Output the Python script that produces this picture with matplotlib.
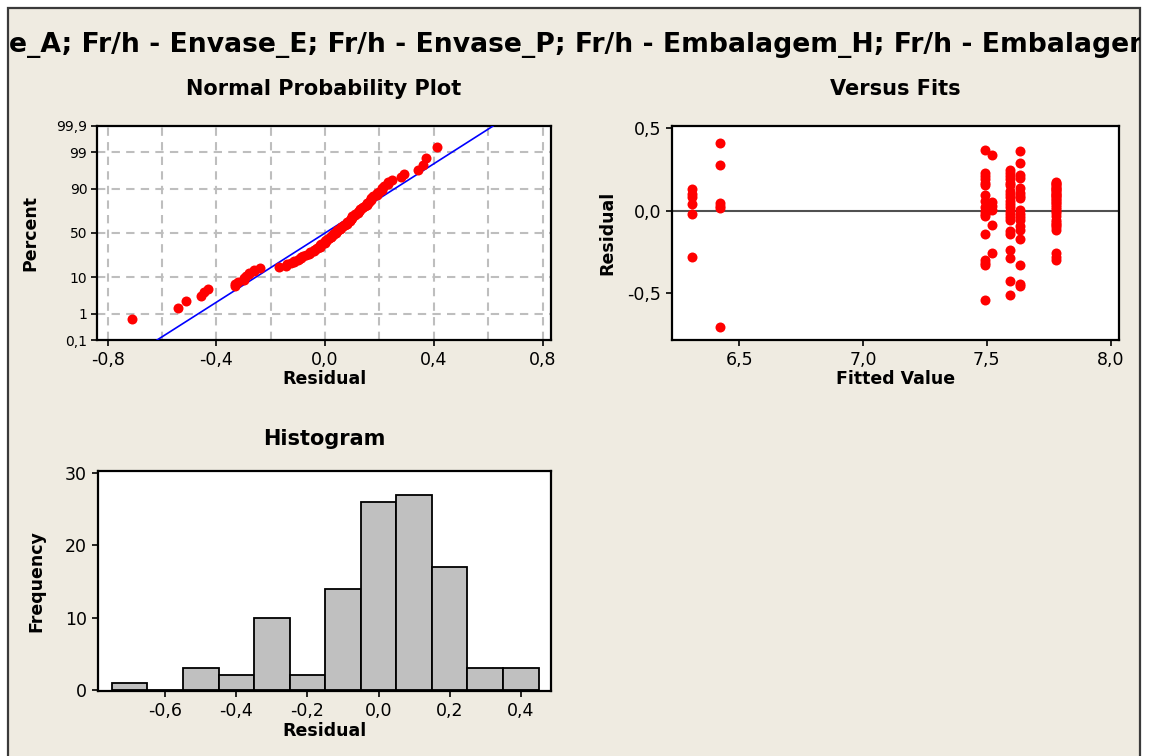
from matplotlib import pyplot as plt
from matplotlib.patches import Rectangle
from matplotlib.ticker import FuncFormatter, FixedLocator
from statistics import NormalDist
import numpy as np

W, H = 1150, 756

# fitted value of each group
fit_values = [6.309, 6.42, 7.493, 7.522, 7.593, 7.632, 7.779]

# residuals of each fitted group
res_631 = [0.13, 0.10, 0.08, 0.04, -0.02, -0.28]
res_642 = [0.41, 0.28, 0.045, 0.03, 0.015, -0.71]
res_750 = [0.37, 0.23, 0.21, 0.19, 0.17, 0.155, 0.095, 0.06, 0.02, 0.0, -0.02,
           -0.035, -0.145, -0.30, -0.32, -0.33, -0.54]
res_752 = [0.34, 0.055, 0.03, 0.005, -0.09, -0.26]
res_759 = [0.245, 0.23, 0.21, 0.19, 0.17, 0.155, 0.12, 0.10, 0.08, 0.06, 0.04,
           0.02, 0.0, -0.02, -0.04, -0.055, -0.125, -0.14, -0.24, -0.29, -0.43, -0.51]
res_763 = [0.36, 0.29, 0.215, 0.20, 0.135, 0.11, 0.09, 0.075, 0.005, -0.02, -0.04,
           -0.055, -0.095, -0.115, -0.17, -0.33, -0.445, -0.455]
res_778 = [0.175, 0.17, 0.16, 0.155, 0.145, 0.14, 0.13, 0.125, 0.12, 0.11, 0.10,
           0.095, 0.09, 0.08, 0.07, 0.065, 0.055, 0.045, 0.035, 0.02, 0.01, 0.0,
           -0.015, -0.03, -0.06, -0.07, -0.08, -0.09, -0.10, -0.115, -0.26, -0.28, -0.30]
res_groups = [res_631, res_642, res_750, res_752, res_759, res_763, res_778]

# fitted normal line of the probability plot
line_mean = 0.0
line_sd = 0.2

# percent ticks of the probability plot
pct_ticks = [0.1, 1, 10, 50, 90, 99, 99.9]
pct_labels = ["0,1", "1", "10", "50", "90", "99", "99,9"]

# histogram bins
hist_edges = np.linspace(-0.75, 0.45, 13)

# the window cuts the long title off on both sides
title_text = "e_A; Fr/h - Envase_E; Fr/h - Envase_P; Fr/h - Embalagem_H; Fr/h - Embalagem_M"

BG = "#EFEBE1"
RED = "#FF0000"


def rect(l, t, r, b):
    return [l / W, 1 - b / H, (r - l) / W, (b - t) / H]


def comma(v, pos=None):
    return f"{v:.1f}".replace(".", ",")


def style_axes(ax):
    ax.set_facecolor("white")
    for s in ax.spines.values():
        s.set_linewidth(1.6)
        s.set_color("black")
    ax.tick_params(direction="out", length=4, width=1.2, labelsize=12.5,
                   top=False, right=False, pad=4)


plt.rcParams["font.family"] = "DejaVu Sans"
fig = plt.figure(figsize=(W / 100, H / 100), dpi=100)
fig.patch.set_facecolor("white")

frame = Rectangle((8 / W, -0.05), (1140 - 8) / W, 1.05 - 8 / H, transform=fig.transFigure,
                  facecolor=BG, edgecolor="#3a3a3a", linewidth=1.6, zorder=-10)
fig.add_artist(frame)

t = fig.text(9 / W, 1 - 52 / H, title_text, ha="left", va="baseline",
             fontsize=19.2, fontweight="bold")
t.set_clip_on(True)
t.set_clip_path(frame)

all_res = []
all_fit = []
for f, g in zip(fit_values, res_groups):
    all_res += g
    all_fit += [f] * len(g)
all_res = np.array(all_res)

# Normal probability plot
ax1 = fig.add_axes(rect(97, 126, 551, 340))
style_axes(ax1)
n = len(all_res)
srt = np.sort(all_res)
z = [NormalDist().inv_cdf((i - 0.3) / (n + 0.4)) for i in range(1, n + 1)]
zlo = NormalDist().inv_cdf(0.001)
zhi = NormalDist().inv_cdf(0.999)
zl = np.array([zlo, zhi])
ax1.plot(line_mean + line_sd * zl, zl, color="#0000FF", linewidth=1.2, zorder=3)
ax1.plot(srt, z, "o", color=RED, markersize=7.2, markeredgewidth=0, zorder=4)
ax1.set_xlim(-0.839, 0.831)
ax1.set_ylim(zlo, zhi)
ax1.yaxis.set_major_locator(FixedLocator([NormalDist().inv_cdf(p / 100) for p in pct_ticks]))
ax1.set_yticklabels(pct_labels)
ax1.tick_params(axis="y", labelsize=10, pad=3)
ax1.set_xticks([-0.8, -0.4, 0.0, 0.4, 0.8])
ax1.xaxis.set_major_formatter(FuncFormatter(comma))
for gx in np.arange(-0.8, 0.81, 0.2):
    ax1.axvline(gx, color="#BEBEBE", linestyle=(0, (4, 3)), linewidth=1.5, zorder=1)
for p in [1, 10, 50, 90, 99]:
    ax1.axhline(NormalDist().inv_cdf(p / 100), color="#BEBEBE", linestyle=(0, (4, 3)),
                linewidth=1.5, zorder=1)
ax1.set_title("Normal Probability Plot", fontsize=15, fontweight="bold", pad=22)
ax1.set_xlabel("Residual", fontsize=12.5, fontweight="bold", labelpad=1)
ax1.set_ylabel("Percent", fontsize=12.5, fontweight="bold", labelpad=12)

# Versus fits
ax2 = fig.add_axes(rect(672, 126, 1119, 340))
style_axes(ax2)
ax2.axhline(0, color="#505050", linewidth=1.5, zorder=2)
ax2.plot(all_fit, all_res, "o", color=RED, markersize=7.2, markeredgewidth=0, zorder=3)
ax2.set_xlim(6.228, 8.034)
ax2.set_ylim(-0.786, 0.514)
ax2.set_xticks([6.5, 7.0, 7.5, 8.0])
ax2.set_yticks([-0.5, 0.0, 0.5])
ax2.xaxis.set_major_formatter(FuncFormatter(comma))
ax2.yaxis.set_major_formatter(FuncFormatter(comma))
ax2.set_title("Versus Fits", fontsize=15, fontweight="bold", pad=22)
ax2.set_xlabel("Fitted Value", fontsize=12.5, fontweight="bold", labelpad=1)
ax2.set_ylabel("Residual", fontsize=12.5, fontweight="bold", labelpad=8)

# Histogram
ax3 = fig.add_axes(rect(98, 471, 551, 691))
style_axes(ax3)
ax3.hist(all_res, bins=hist_edges, color="#C0C0C0", edgecolor="black", linewidth=1.3)
ax3.set_xlim(-0.789, 0.485)
ax3.set_ylim(-0.15, 30.3)
ax3.set_xticks([-0.6, -0.4, -0.2, 0.0, 0.2, 0.4])
ax3.set_yticks([0, 10, 20, 30])
ax3.xaxis.set_major_formatter(FuncFormatter(comma))
ax3.set_title("Histogram", fontsize=15, fontweight="bold", pad=19)
ax3.set_xlabel("Residual", fontsize=12.5, fontweight="bold", labelpad=1)
ax3.set_ylabel("Frequency", fontsize=12.5, fontweight="bold", labelpad=14)

fig.savefig("out.png", dpi=100, facecolor=fig.get_facecolor())
